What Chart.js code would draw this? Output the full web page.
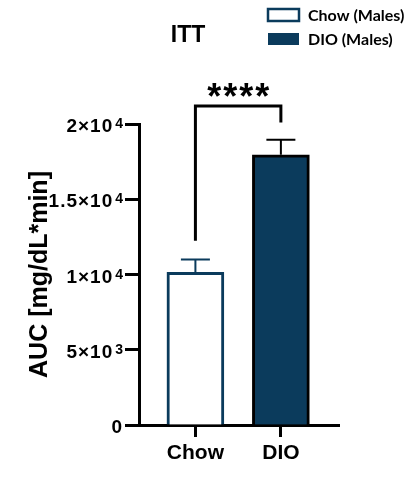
<!DOCTYPE html>
<html>
<head>
<meta charset="utf-8">
<script src="https://cdn.jsdelivr.net/npm/chart.js@4.4.1/dist/chart.umd.min.js"></script>
<style>
  html, body { margin: 0; padding: 0; background: #fff; }
  canvas { display: block; }
</style>
</head>
<body>
<canvas id="chart" width="410" height="486"></canvas>
<script>
const groups = ['Chow', 'DIO']
const seriesLabels = ['Chow (Males)', 'DIO (Males)']
const auc = [10150, 17950]
const sem = [850, 1000]
const yTicks = [0, 5000, 10000, 15000, 20000]
const yTickBase = ['0', '5×10', '1×10', '1.5×10', '2×10']
const yTickExp = ['', '3', '4', '4', '4']
const chartTitle = 'ITT'
const yTitle = 'AUC [mg/dL*min]'
const sigLabel = '****'

const navy = '#0b3b5c'
const font = '"Liberation Sans", Arial, sans-serif'

// error bars, y tick labels with exponents, significance bracket, title and legend
const annotations = {
  id: 'annotations',
  afterDatasetsDraw(chart) {
    const { ctx, scales: { x, y } } = chart
    ctx.save()
    ctx.lineCap = 'butt'
    chart.data.datasets.forEach((ds, i) => {
      const px = x.getPixelForValue(i)
      const top = y.getPixelForValue(auc[i])
      const tip = y.getPixelForValue(auc[i] + sem[i])
      ctx.strokeStyle = ds.borderColor
      ctx.lineWidth = 2
      ctx.beginPath()
      ctx.moveTo(px, top)
      ctx.lineTo(px, tip)
      ctx.moveTo(px - 14.5, tip)
      ctx.lineTo(px + 14.5, tip)
      ctx.stroke()
    })
    ctx.restore()
  },
  afterDraw(chart) {
    const { ctx, scales: { x, y } } = chart
    ctx.save()

    // y tick labels: mantissa plus raised exponent, right aligned
    ctx.fillStyle = '#000'
    ctx.textBaseline = 'alphabetic'
    ctx.textAlign = 'left'
    const right = y.right - 16
    yTicks.forEach((v, i) => {
      const py = y.getPixelForValue(v)
      ctx.font = 'bold 14px ' + font
      const ew = yTickExp[i] ? ctx.measureText(yTickExp[i]).width + 2 : 0
      ctx.font = 'bold 19px ' + font
      ctx.letterSpacing = '1px'
      const bw = ctx.measureText(yTickBase[i]).width
      ctx.fillText(yTickBase[i], right - ew - bw, py + 8)
      ctx.letterSpacing = '0px'
      if (yTickExp[i]) {
        ctx.font = 'bold 14px ' + font
        ctx.fillText(yTickExp[i], right - ew + 2, py + 4)
      }
    })

    // bracket
    const xl = x.getPixelForValue(0)
    const xr = x.getPixelForValue(1)
    ctx.strokeStyle = '#000'
    ctx.lineWidth = 3
    ctx.lineJoin = 'miter'
    ctx.beginPath()
    ctx.moveTo(xl, y.getPixelForValue(12250))
    ctx.lineTo(xl, y.getPixelForValue(21200))
    ctx.lineTo(xr, y.getPixelForValue(21200))
    ctx.lineTo(xr, y.getPixelForValue(20100))
    ctx.stroke()

    ctx.textAlign = 'center'
    ctx.font = 'bold 36px ' + font
    ctx.letterSpacing = '2px'
    ctx.fillText(sigLabel, (xl + xr) / 2 + 1, y.getPixelForValue(21000))
    ctx.letterSpacing = '0px'

    // title
    ctx.font = 'bold 23px ' + font
    ctx.textBaseline = 'middle'
    ctx.fillText(chartTitle, 188, 36)

    // legend
    ctx.textAlign = 'left'
    ctx.font = 'bold 16px Lato, sans-serif'
    chart.data.datasets.forEach((ds, i) => {
      const by = 9 + i * 24
      ctx.fillStyle = i === 0 ? '#fff' : navy
      ctx.fillRect(268, by, 31, 12)
      if (i === 0) {
        ctx.strokeStyle = navy
        ctx.lineWidth = 2.5
        ctx.strokeRect(268, by, 31, 12)
      }
      ctx.fillStyle = '#000'
      ctx.fillText(ds.label, 308, by + 6.5)
    })
    ctx.restore()
  }
}

new Chart('chart', {
  type: 'bar',
  data: {
    datasets: [
      {
        label: seriesLabels[0],
        data: [{ x: 0, y: auc[0] }],
        backgroundColor: '#fff',
        borderColor: navy,
        borderWidth: 3,
        borderSkipped: 'start',
        barThickness: 57,
        grouped: false
      },
      {
        label: seriesLabels[1],
        data: [{ x: 1, y: auc[1] }],
        backgroundColor: navy,
        borderColor: '#000',
        borderWidth: 3,
        borderSkipped: 'start',
        barThickness: 57,
        grouped: false
      }
    ]
  },
  options: {
    responsive: false,
    animation: false,
    layout: { padding: { left: 0, right: 71, top: 124, bottom: 0 } },
    plugins: {
      legend: { display: false },
      title: { display: false },
      tooltip: { enabled: false }
    },
    scales: {
      x: {
        type: 'linear',
        min: -0.66,
        max: 1.68,
        offset: false,
        afterBuildTicks: scale => { scale.ticks = groups.map((g, i) => ({ value: i })) },
        afterFit: scale => { scale.height = 61 },
        grid: { display: true, drawOnChartArea: false, drawTicks: true, tickLength: 12, tickWidth: 3, tickColor: '#000', offset: false },
        border: { display: true, color: '#000', width: 3 },
        ticks: {
          color: '#000',
          padding: 4,
          autoSkip: false,
          maxRotation: 0,
          font: { family: font, size: 21, weight: 'bold' },
          callback: v => groups[v]
        }
      },
      y: {
        min: 0,
        max: 20000,
        afterBuildTicks: scale => { scale.ticks = yTicks.map(v => ({ value: v })) },
        afterFit: scale => { scale.width = 139 },
        grid: { display: true, drawOnChartArea: false, drawTicks: true, tickLength: 14, tickWidth: 3, tickColor: '#000' },
        border: { display: true, color: '#000', width: 3 },
        title: {
          display: true,
          text: yTitle,
          color: '#000',
          padding: { top: 25, bottom: 0 },
          font: { family: font, size: 25, weight: 'bold' }
        },
        ticks: { display: false }
      }
    }
  },
  plugins: [annotations]
})
</script>
</body>
</html>
